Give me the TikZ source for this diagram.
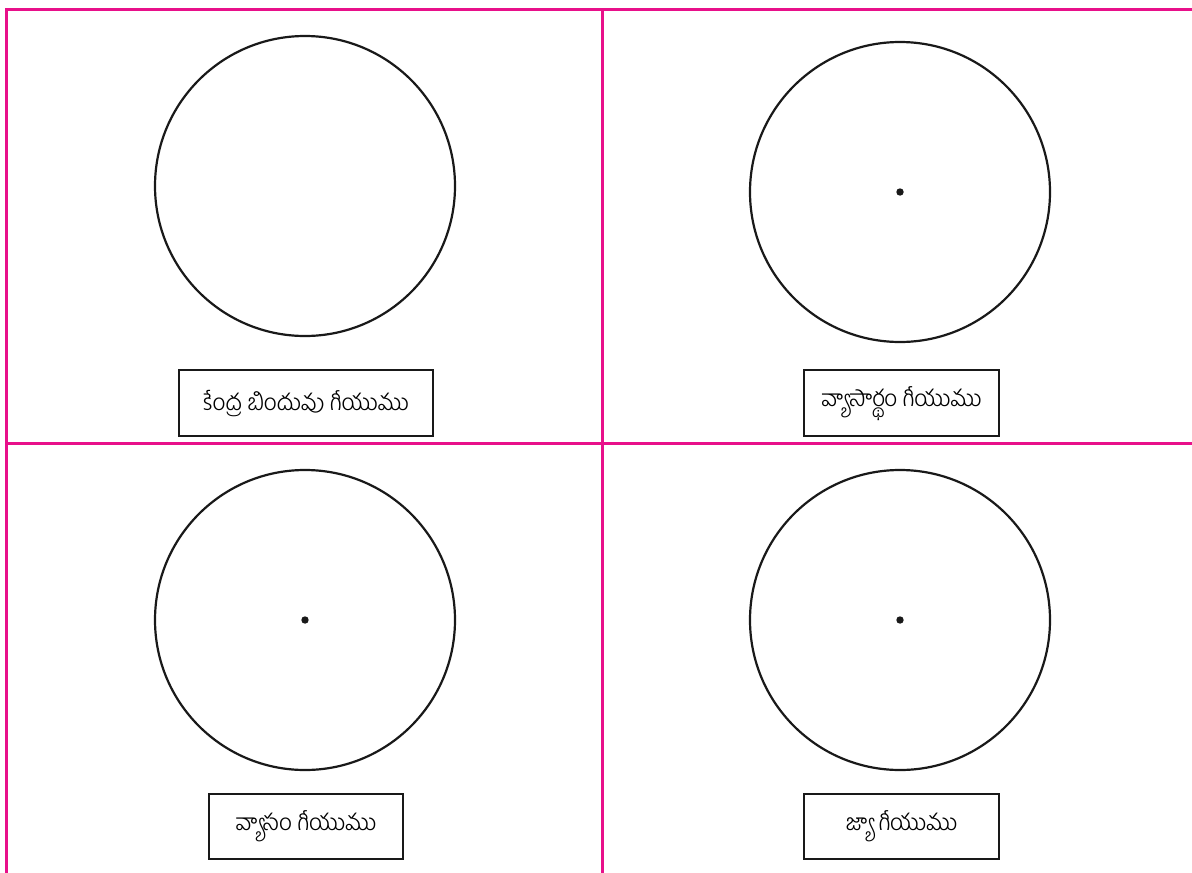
\documentclass[tikz,border=0pt]{standalone}
\usepackage{fontspec}
\newfontfamily\telugu[Script=Telugu]{Hind Guntur Light}
\definecolor{pinkline}{HTML}{E8108A}
\begin{document}
\begin{tikzpicture}[x=1pt,y=-1pt,
  grid/.style={draw=pinkline,line width=3pt},
  circ/.style={draw=black!90,line width=2.2pt},
  dotc/.style={fill=black!90},
  lbl/.style={draw=black!90,line width=2.3pt,font=\telugu\fontsize{23}{26}\selectfont,inner sep=0pt,anchor=north west}]
\useasboundingbox (0,0) rectangle (1192,873);
\fill[white] (0,0) rectangle (1192,873);
% grid
\coordinate (tl) at (6.5,9.5);
\coordinate (tr) at (1192,9.5);
\coordinate (bl) at (6.5,873);
\coordinate (mt) at (602,9.5);
\coordinate (mb) at (602,873);
\coordinate (ml) at (6.5,443);
\coordinate (mr) at (1192,443);
\draw[grid] (tr) -- (tl) -- (bl);
\draw[grid] (mt) -- (mb);
\draw[grid] (ml) -- (mr);
% circles
\draw[circ] (305,186) circle (150);
\draw[circ] (900,192) circle (150);
\draw[circ] (305,620) circle (150);
\draw[circ] (900,620) circle (150);
\fill[dotc] (900,192) circle (3.7);
\fill[dotc] (305,620) circle (3.7);
\fill[dotc] (900,620) circle (3.7);
% labels
\node[lbl,minimum width=254,minimum height=66] (l1) at (178,369) {కేంద్ర బిందువు గీయుము};
\node[lbl,minimum width=195,minimum height=66] (l2) at (803,369) {వ్యాసార్థం గీయుము};
\node[lbl,minimum width=194,minimum height=65] (l3) at (208,793) {వ్యాసం గీయుము};
\node[lbl,minimum width=195,minimum height=65] (l4) at (803,793) {జ్యా గీయుము};
\end{tikzpicture}
\end{document}
